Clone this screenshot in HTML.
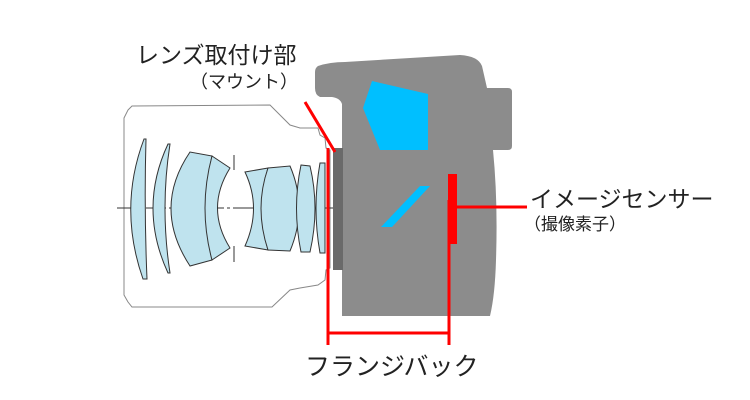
<!DOCTYPE html>
<html><head><meta charset="utf-8"><style>
html,body{margin:0;padding:0;background:#fff;}
body{width:750px;height:400px;position:relative;overflow:hidden;font-family:"Liberation Sans","Noto Sans CJK JP",sans-serif;}
.t{position:absolute;white-space:nowrap;color:#222;}
</style></head><body>
<svg width="750" height="400" style="position:absolute;left:0;top:0">
<path d="M128,110 L132,106 L270,105 L290,125 L300,128 L318,128 L320,135 L325,138 L326,148 L330,150 L330,268 L326,270 L325,280 L318,285 L300,288 L290,290 L272,307 L132,307 L128,302 L124,295 L124,118 Z" fill="#fff" stroke="#888" stroke-width="1"/>
<line x1="117" y1="208" x2="335" y2="208" stroke="#333" stroke-width="1" stroke-dasharray="20,3,3,3"/>
<g fill="#bfe3ee" stroke="#333" stroke-width="1">
<path d="M144,139 Q118,208 143,279 L147,279 Q144,208 146,139 Z"/>
<path d="M168,144 Q138,208 168,273 L170,273 Q160,208 170,144 Z"/>
<path d="M190,152 Q152,208 190,266 L212,260 Q200,208 212,156 Z"/>
<path d="M212,156 L230,168 Q205,208 230,248 L212,260 Q198,208 212,156 Z"/>
<path d="M245,172 L268,168 Q255,208 268,250 L245,246 Q262,208 245,172 Z"/>
<path d="M268,168 L290,166 Q308,208 290,251 L268,250 Q254,208 268,168 Z"/>
<path d="M301,165 L310,166 Q320,208 310,252 L301,252 Q292,208 301,165 Z"/>
<path d="M320,163 L325,163 L325,253 L320,253 Q312,208 320,163 Z"/>
</g>
<line x1="234" y1="155" x2="234" y2="170" stroke="#333"/>
<line x1="234" y1="246" x2="234" y2="262" stroke="#333"/>
<path d="M318,66 Q330,62 345,62 L460,55 Q478,56 482,66 L487,88 L508,88 Q512,88 512,92 L512,146 Q512,150 508,150 L493,150 Q498,200 496,260 Q495,295 490,316 L342,316 L342,104 Q340,98 332,97 L320,97 Q315,95 315,88 L315,72 Q315,68 318,66 Z" fill="#8c8c8c"/>
<rect x="333" y="148" width="10" height="122" fill="#6a6a6a"/>
<polygon points="372,81 363,108 380,150 428,150 428,94" fill="#00bfff"/>
<polygon points="381,227 392,227 430,186 420,186" fill="#00bfff"/>
<g stroke="#f00" stroke-width="3" fill="none">
<line x1="305" y1="102" x2="335" y2="152"/>
<line x1="328" y1="148" x2="328" y2="345"/>
<line x1="449" y1="200" x2="449" y2="345"/>
<line x1="329" y1="333" x2="449" y2="333"/>
<line x1="456" y1="207" x2="527" y2="207"/>
</g>
<rect x="448" y="174" width="9" height="70" fill="#f00"/>
</svg>
<div class="t" style="left:136px;top:36px;font-size:23px;">レンズ取付け部</div>
<div class="t" style="left:190px;top:68px;font-size:18px;">（マウント）</div>
<div class="t" style="left:530px;top:180px;font-size:23px;">イメージセンサー</div>
<div class="t" style="left:524px;top:210px;font-size:17px;">（撮像素子）</div>
<div class="t" style="left:305px;top:347px;font-size:25px;">フランジバック</div>
</body></html>
